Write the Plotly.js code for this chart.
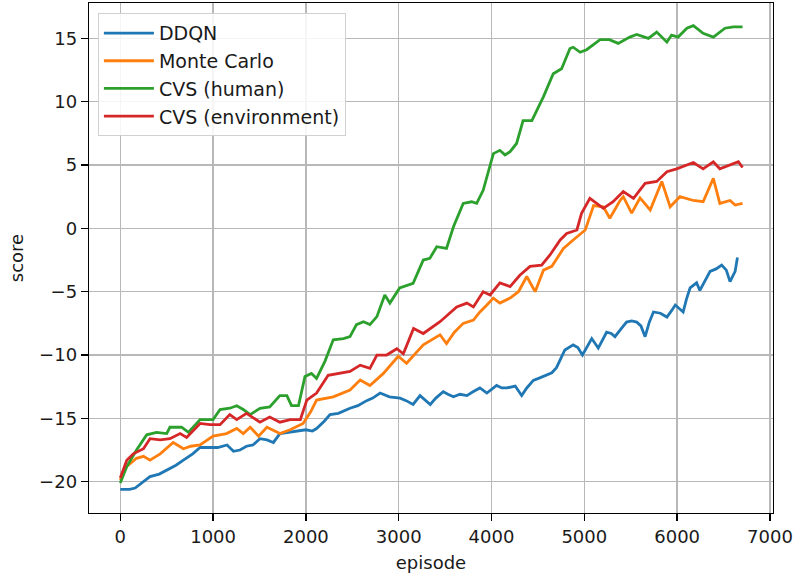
<!DOCTYPE html>
<html>
<head>
<meta charset="utf-8">
<script src="https://cdn.plot.ly/plotly-3.0.1.min.js"></script>
<style>html,body{margin:0;padding:0;background:#fff;}#chart{width:793px;height:575px;}</style>
</head>
<body>
<div id="chart"></div>
<script>
// DDQN
const ddqnEpisode = [0,100,160,250,320,420,500,600,680,780,860,950,1050,1150,1220,1290,1360,1430,1505,1580,1650,1720,1800,1900,2000,2070,2115,2200,2260,2350,2475,2560,2655,2720,2800,2900,3015,3080,3155,3230,3280,3340,3400,3480,3530,3590,3660,3735,3800,3875,3950,4055,4110,4165,4255,4325,4380,4450,4520,4595,4650,4700,4750,4790,4880,4930,4980,5030,5080,5150,5200,5240,5290,5330,5400,5455,5510,5565,5610,5655,5700,5745,5820,5890,5940,5980,6065,6100,6140,6210,6245,6300,6355,6420,6480,6530,6570,6625,6650];
const ddqnScore = [-20.6,-20.6,-20.5,-20.0,-19.6,-19.4,-19.1,-18.7,-18.3,-17.8,-17.3,-17.3,-17.3,-17.1,-17.6,-17.5,-17.2,-17.1,-16.6,-16.7,-16.9,-16.2,-16.1,-16.0,-15.9,-16.0,-15.8,-15.2,-14.7,-14.6,-14.2,-14.0,-13.6,-13.4,-13.0,-13.3,-13.4,-13.6,-13.9,-13.2,-13.5,-13.9,-13.4,-12.9,-13.1,-13.3,-13.1,-13.2,-12.9,-12.6,-13.0,-12.4,-12.6,-12.6,-12.45,-13.2,-12.6,-12.0,-11.8,-11.6,-11.4,-11.0,-10.2,-9.6,-9.2,-9.4,-10.0,-9.3,-8.7,-9.45,-8.8,-8.2,-8.3,-8.55,-7.9,-7.4,-7.3,-7.4,-7.7,-8.55,-7.4,-6.6,-6.7,-7.0,-6.5,-6.05,-6.6,-5.6,-4.7,-4.3,-4.9,-4.2,-3.4,-3.2,-2.9,-3.3,-4.2,-3.4,-2.3];

// Monte Carlo
const mcEpisode = [0,70,175,250,320,430,570,680,760,860,1000,1145,1255,1325,1400,1490,1580,1720,1830,1970,2050,2115,2295,2475,2585,2690,2835,2995,3085,3180,3265,3445,3515,3600,3695,3805,3875,3950,4020,4090,4200,4290,4380,4470,4560,4650,4775,4880,5010,5100,5205,5275,5385,5420,5510,5600,5710,5835,5925,6030,6175,6280,6390,6460,6570,6625,6705];
const mcScore = [-19.9,-18.8,-18.15,-18.0,-18.3,-17.8,-16.9,-17.4,-17.2,-17.1,-16.4,-16.2,-15.8,-16.2,-15.7,-16.4,-15.7,-16.2,-15.9,-15.4,-14.5,-13.55,-13.3,-12.76,-11.97,-12.4,-11.45,-10.1,-10.65,-9.9,-9.2,-8.4,-9.1,-8.2,-7.5,-7.24,-6.6,-6.05,-5.5,-5.9,-5.5,-5.0,-3.8,-5.0,-3.3,-3.0,-1.58,-0.92,-0.13,1.8,1.7,0.8,2.2,2.5,1.2,2.4,1.45,3.7,1.7,2.5,2.2,2.1,3.95,1.97,2.2,1.84,1.97];

// CVS (human)
const humanEpisode = [0,70,175,285,390,500,535,660,735,860,1000,1075,1180,1255,1325,1400,1505,1610,1720,1795,1845,1920,1990,2060,2115,2205,2295,2405,2475,2545,2620,2690,2765,2850,2905,3010,3155,3265,3335,3410,3515,3590,3695,3785,3840,3910,4020,4090,4145,4200,4270,4340,4435,4490,4560,4665,4755,4845,4880,4955,5025,5170,5270,5365,5490,5565,5690,5780,5890,5940,6010,6105,6175,6280,6390,6515,6605,6705];
const humanScore = [-20.1,-18.8,-17.5,-16.3,-16.1,-16.2,-15.7,-15.7,-16.1,-15.1,-15.1,-14.3,-14.2,-14.0,-14.3,-14.7,-14.2,-14.1,-13.2,-13.2,-14.0,-14.0,-11.7,-11.45,-11.85,-10.5,-8.8,-8.7,-8.55,-7.6,-7.37,-7.6,-6.97,-5.26,-5.9,-4.7,-4.34,-2.5,-2.37,-1.45,-1.58,0.13,1.97,2.1,1.97,3.0,5.9,6.16,5.8,6.05,6.7,8.5,8.5,9.3,10.4,12.2,12.6,14.2,14.3,13.9,14.1,14.9,14.9,14.6,15.1,15.3,15.0,15.5,14.7,15.26,15.1,15.8,16.0,15.4,15.1,15.8,15.9,15.9];

// CVS (environment)
const envEpisode = [0,70,140,250,320,430,535,645,715,860,965,1075,1180,1255,1360,1505,1610,1720,1830,1940,2010,2115,2240,2365,2475,2585,2690,2765,2870,2980,3050,3160,3265,3445,3625,3735,3805,3910,3985,4090,4200,4305,4415,4540,4630,4740,4810,4920,4970,5060,5205,5310,5420,5530,5655,5780,5890,5995,6175,6280,6390,6460,6570,6660,6705];
const envScore = [-19.7,-18.3,-17.8,-17.4,-16.6,-16.7,-16.6,-16.2,-16.5,-15.4,-15.5,-15.5,-14.7,-15.1,-14.6,-15.3,-14.9,-15.3,-15.1,-15.1,-13.55,-13.0,-11.6,-11.45,-11.3,-10.8,-11.05,-10.0,-10.0,-9.5,-9.9,-7.9,-8.3,-7.37,-6.2,-5.9,-6.2,-5.0,-5.26,-4.3,-4.6,-3.7,-3.0,-2.9,-2.1,-0.92,-0.4,-0.13,1.18,2.37,1.58,2.1,2.9,2.37,3.55,3.7,4.47,4.7,5.2,4.7,5.26,4.7,5.0,5.26,4.8];

const names = ["DDQN","Monte Carlo","CVS (human)","CVS (environment)"];
const colors = ["#1f77b4","#ff7f0e","#2ca02c","#d62728"];
const xs = [ddqnEpisode, mcEpisode, humanEpisode, envEpisode];
const ys = [ddqnScore, mcScore, humanScore, envScore];

const FONT = "DejaVu Sans, sans-serif";
const traces = names.map((n,i)=>({
  type:"scatter", mode:"lines", name:n, x:xs[i], y:ys[i],
  line:{color:colors[i], width:2.8}
}));

const axisCommon = {
  showline:true, mirror:true, linecolor:"#000", linewidth:1.3,
  ticks:"outside", ticklen:7, tickwidth:1.3, tickcolor:"#000",
  showgrid:true, gridcolor:"#b8b8b8", gridwidth:1.4,
  zeroline:false,
  tickfont:{family:FONT, size:18, color:"#1a1a1a"}
};

const layout = {
  width:793, height:575,
  margin:{l:89, r:20, t:3, b:62},
  paper_bgcolor:"#fff", plot_bgcolor:"#fff",
  font:{family:FONT, size:18, color:"#1a1a1a"},
  showlegend:true,
  legend:{
    x:0.013, y:0.98, xanchor:"left", yanchor:"top",
    bgcolor:"rgba(255,255,255,0.85)", bordercolor:"#d0d0d0", borderwidth:1,
    font:{family:FONT, size:19, color:"#1a1a1a"},
    itemwidth:50
  },
  xaxis:Object.assign({}, axisCommon, {
    range:[-337, 7033], tickmode:"array",
    tickvals:[0,1000,2000,3000,4000,5000,6000,7000],
    ticktext:["0","1000","2000","3000","4000","5000","6000","7000"],
    title:{text:"episode", font:{family:FONT, size:18, color:"#1a1a1a"}, standoff:10}
  }),
  yaxis:Object.assign({}, axisCommon, {
    range:[-22.47, 17.79], tickmode:"array",
    tickvals:[-20,-15,-10,-5,0,5,10,15],
    title:{text:"score", font:{family:FONT, size:18, color:"#1a1a1a"}, standoff:10}
  })
};

Plotly.newPlot("chart", traces, layout, {staticPlot:true, displayModeBar:false});
</script>
</body>
</html>
